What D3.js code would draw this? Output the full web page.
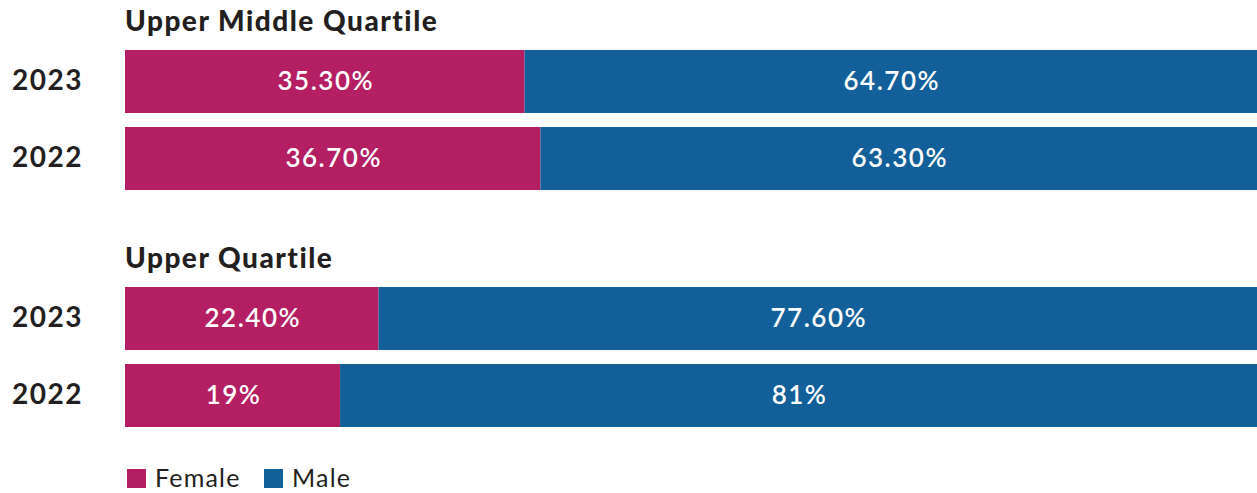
<!DOCTYPE html>
<html>
<head>
<meta charset="utf-8">
<script src="https://cdn.jsdelivr.net/npm/d3@7"></script>
<style>
  body { margin: 0; background: #fff; }
  svg text { font-family: Lato, "Open Sans", sans-serif; }
</style>
</head>
<body>
<div id="chart"></div>
<script>
const groups = ["Upper Middle Quartile", "Upper Quartile"];
const years = ["2023", "2022"];
const female = [[35.3, 36.7], [22.4, 19]];
const male = [[64.7, 63.3], [77.6, 81]];
const seriesNames = ["Female", "Male"];
const colors = ["#b41e63", "#125f99"];

const W = 1257, H = 493;

const svg = d3.select("#chart").append("svg")
  .attr("width", W)
  .attr("height", H);

const x = d3.scaleLinear().domain([0, 100]).range([125, W]);
const gy = d3.scaleBand().domain(groups).range([50, 427]).paddingInner(97 / 237);
const y = d3.scaleBand().domain(years).range([0, gy.bandwidth()]).paddingInner(14 / 77);

const fmt = v => (Number.isInteger(v) ? v : v.toFixed(2)) + "%";

groups.forEach((gname, gi) => {
  const g = svg.append("g").attr("transform", `translate(0,${gy(gname)})`);

  g.append("text")
    .attr("x", 125)
    .attr("y", -19)
    .attr("font-size", 28)
    .attr("font-weight", 900)
    .attr("letter-spacing", 1.5)
    .attr("fill", "#231f20")
    .text(gname);

  const rows = years.map((yr, i) => {
    const f = female[gi][i], m = male[gi][i];
    return { yr, segs: [
      { v: f, x0: 0, x1: f, c: 0 },
      { v: m, x0: f, x1: f + m, c: 1 }
    ] };
  });

  const row = g.selectAll("g.row")
    .data(rows)
    .join("g")
    .attr("class", "row")
    .attr("transform", d => `translate(0,${y(d.yr)})`);

  row.append("text")
    .attr("x", 12)
    .attr("y", y.bandwidth() / 2)
    .attr("dy", "0.3em")
    .attr("font-size", 28)
    .attr("font-weight", 700)
    .attr("letter-spacing", 1.5)
    .attr("fill", "#231f20")
    .text(d => d.yr);

  row.selectAll("rect")
    .data(d => d.segs)
    .join("rect")
    .attr("x", d => x(d.x0))
    .attr("width", d => x(d.x1) - x(d.x0))
    .attr("y", 0)
    .attr("height", y.bandwidth())
    .attr("fill", d => colors[d.c]);

  row.selectAll("text.val")
    .data(d => d.segs)
    .join("text")
    .attr("class", "val")
    .attr("x", d => (x(d.x0) + x(d.x1)) / 2 + 1)
    .attr("y", y.bandwidth() / 2)
    .attr("dy", "0.33em")
    .attr("text-anchor", "middle")
    .attr("font-size", 26)
    .attr("font-weight", 600)
    .attr("letter-spacing", 1.5)
    .attr("fill", "#fff")
    .text(d => fmt(d.v));
});

// legend
const legend = svg.append("g").attr("transform", "translate(127,469)");
const lx = [0, 137];
seriesNames.forEach((name, i) => {
  legend.append("rect")
    .attr("x", lx[i])
    .attr("y", 0)
    .attr("width", 19)
    .attr("height", 19)
    .attr("fill", colors[i]);
  legend.append("text")
    .attr("x", lx[i] + 28)
    .attr("y", 18)
    .attr("font-size", 25)
    .attr("letter-spacing", 1.2)
    .attr("fill", "#231f20")
    .text(name);
});
</script>
</body>
</html>
